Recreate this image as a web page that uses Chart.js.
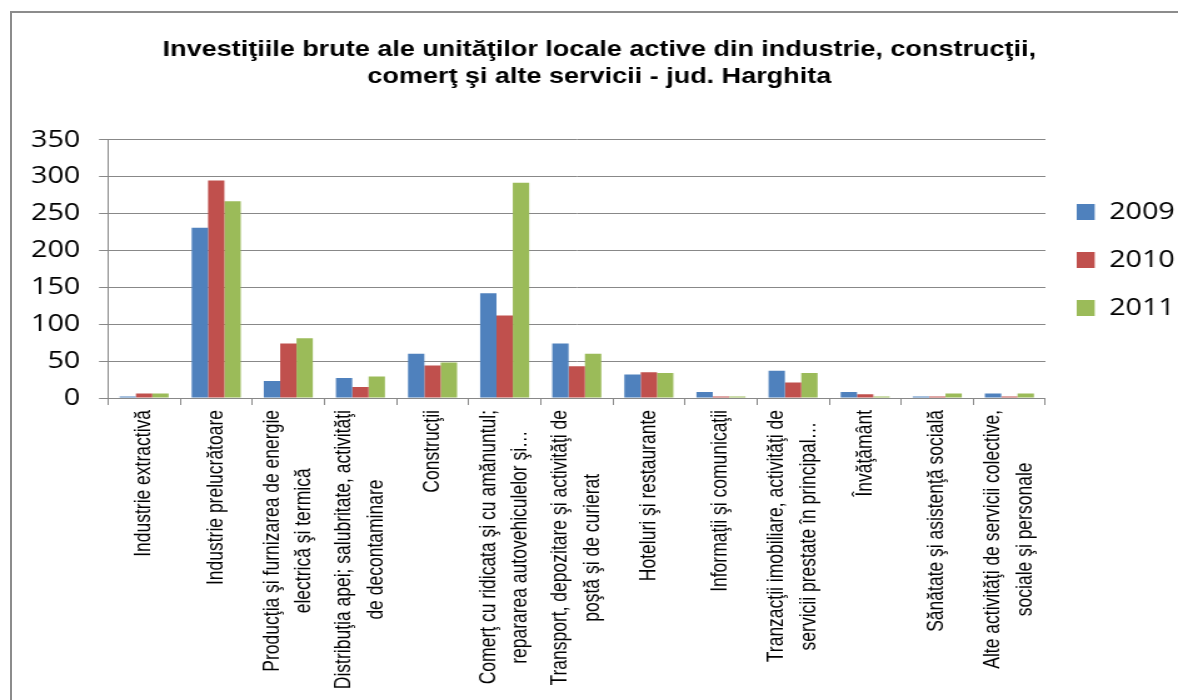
<!DOCTYPE html>
<html>
<head>
<meta charset="utf-8">
<script src="https://cdn.jsdelivr.net/npm/chart.js@4.4.1/dist/chart.umd.min.js"></script>
<style>
  html, body { margin: 0; padding: 0; background: #ffffff; overflow: hidden; width: 1178px; height: 700px; }
  #frame { position: absolute; left: 10px; top: 11px; width: 1200px; height: 720px; border: 2px solid #8c8c8c; }
  #c { position: absolute; left: 0; top: 0; }
</style>
</head>
<body>
<div id="frame"></div>
<canvas id="c" width="942" height="700" style="width:1178px;height:700px;"></canvas>
<script>
const titleLines = [
  "Investiţiile brute ale unităţilor locale active din industrie, construcţii,",
  "comerţ şi alte servicii - jud. Harghita"
];
const categories = [
  ["Industrie extractivă"],
  ["Industrie prelucrătoare"],
  ["Producţia şi furnizarea de energie", "electrică şi termică"],
  ["Distribuţia apei; salubritate, activităţi", "de decontaminare"],
  ["Construcţii"],
  ["Comerţ cu ridicata şi cu amănuntul;", "repararea autovehiculelor şi…"],
  ["Transport, depozitare şi activităţi de", "poştă şi de curierat"],
  ["Hoteluri şi restaurante"],
  ["Informaţii şi comunicaţii"],
  ["Tranzacţii imobiliare, activităţi de", "servicii prestate în principal…"],
  ["Învăţământ"],
  ["Sănătate şi asistenţă socială"],
  ["Alte activităţi de servicii colective,", "sociale şi personale"]
];
const seriesNames = ["2009", "2010", "2011"];
const values2009 = [2, 231, 23, 27, 60, 142, 74, 32, 8, 37, 8, 2, 6];
const values2010 = [6, 295, 74, 15, 44, 112, 43, 35, 2, 21, 5, 2, 2];
const values2011 = [6, 267, 81, 29, 48, 292, 60, 34, 2, 34, 2, 6, 6];
const yTicks = [0, 50, 100, 150, 200, 250, 300, 350];
const colors = ["#4F81BD", "#C0504D", "#9BBB59"];

const xLabelPlugin = {
  id: 'xLabels',
  afterDraw(chart) {
    const ctx = chart.ctx;
    const xs = chart.scales.x;
    const yTop = chart.chartArea.bottom + 12;
    const lh = 25.5;
    ctx.save();
    ctx.font = '17.5px "Liberation Sans", Arial, sans-serif';
    ctx.fillStyle = '#000000';
    ctx.textAlign = 'center';
    ctx.textBaseline = 'middle';
    categories.forEach((lines, i) => {
      const x = xs.getPixelForValue(i);
      let maxW = 0;
      lines.forEach(l => { maxW = Math.max(maxW, ctx.measureText(l).width); });
      ctx.save();
      ctx.translate(x, yTop);
      ctx.rotate(-Math.PI / 2);
      lines.forEach((l, j) => {
        ctx.fillText(l, -maxW / 2, (j - (lines.length - 1) / 2) * lh);
      });
      ctx.restore();
    });
    ctx.restore();
  }
};

new Chart(document.getElementById('c'), {
  type: 'bar',
  data: {
    labels: categories.map(c => c.join(' ')),
    datasets: [
      { label: seriesNames[0], data: values2009, backgroundColor: colors[0], borderWidth: 0 },
      { label: seriesNames[1], data: values2010, backgroundColor: colors[1], borderWidth: 0 },
      { label: seriesNames[2], data: values2011, backgroundColor: colors[2], borderWidth: 0 }
    ]
  },
  options: {
    responsive: false,
    animation: false,
    events: [],
    layout: { padding: { left: 9, right: -7.5, top: 0, bottom: 180 } },
    datasets: { bar: { categoryPercentage: 0.68, barPercentage: 1.0 } },
    plugins: {
      title: {
        display: true,
        text: titleLines,
        color: '#000000',
        font: { family: '"Liberation Sans", Arial, sans-serif', weight: 'bold', size: 21.6, lineHeight: 1.236 },
        padding: { top: 37, bottom: 49.6 }
      },
      legend: {
        display: true,
        position: 'right',
        align: 'center',
        labels: {
          color: '#000000',
          font: { family: '"Open Sans", sans-serif', size: 23 },
          boxWidth: 14.4,
          boxHeight: 16,
          padding: 25
        }
      },
      tooltip: { enabled: false }
    },
    scales: {
      x: {
        grid: { display: true, drawOnChartArea: false, drawTicks: true, tickLength: 7, color: '#888888', offset: true },
        border: { display: true, color: '#888888' },
        ticks: { display: false },
        afterFit(scale) { scale.height = 122; }
      },
      y: {
        min: 0,
        max: 350,
        afterBuildTicks(scale) { scale.ticks = yTicks.map(v => ({ value: v })); },
        grid: { color: '#888888', tickLength: 7.2, drawTicks: true },
        border: { display: true, color: '#888888' },
        ticks: {
          color: '#000000',
          font: { family: '"Open Sans", sans-serif', size: 23 },
          padding: 15
        },
        afterFit(scale) { scale.width = 77.4; }
      }
    }
  },
  plugins: [xLabelPlugin]
});
</script>
</body>
</html>
